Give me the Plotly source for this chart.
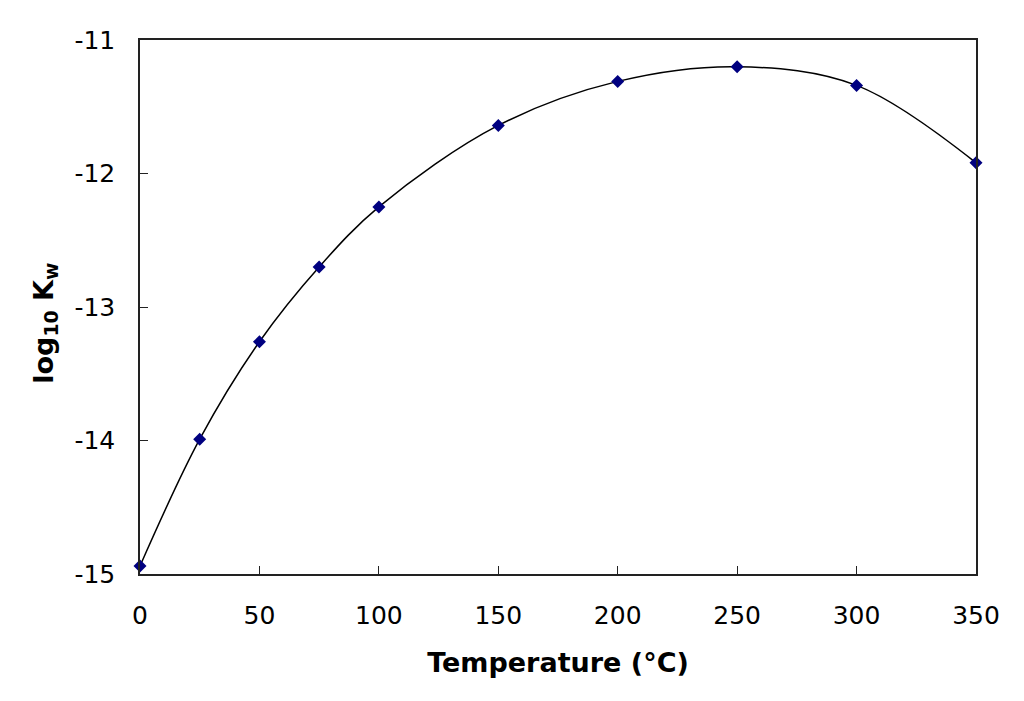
import plotly.graph_objects as go

temperature_c = [0, 25, 50, 75, 100, 150, 200, 250, 300, 350]
log10_kw = [-14.94, -13.99, -13.26, -12.70, -12.25, -11.64, -11.31, -11.20, -11.34, -11.92]

x_ticks = [0, 50, 100, 150, 200, 250, 300, 350]
y_ticks = [-15, -14, -13, -12, -11]
y_tick_labels = ["-15", "-14", "-13", "-12", "-11"]

fig = go.Figure()
fig.add_trace(go.Scatter(
    x=temperature_c, y=log10_kw, mode="lines+markers",
    line=dict(color="black", width=1.5, shape="spline", smoothing=1.0),
    marker=dict(symbol="diamond", color="#000080", size=10),
    showlegend=False, cliponaxis=False,
))

font_family = "DejaVu Sans"
fig.update_layout(
    width=1024, height=701,
    margin=dict(l=132, r=56, t=32, b=135),
    paper_bgcolor="white", plot_bgcolor="white",
    font=dict(family=font_family, color="black", size=25),
)
fig.update_xaxes(
    range=[0, 350], tickvals=x_ticks, ticks="inside", ticklen=8, tickcolor="#222",
    showline=True, linecolor="#222", linewidth=1.5, mirror=True, showgrid=False, zeroline=False,
    tickfont=dict(size=25, family=font_family), ticklabelstandoff=18,
    title=dict(text="<b>Temperature (°C)</b>", font=dict(size=27, family=font_family), standoff=24),
)
fig.update_yaxes(
    range=[-15, -11], tickvals=y_ticks, ticktext=y_tick_labels, ticks="inside", ticklen=8, tickcolor="#222",
    showline=True, linecolor="#222", linewidth=1.5, mirror=True, showgrid=False, zeroline=False,
    tickfont=dict(size=25, family=font_family), ticklabelstandoff=18,
)
fig.add_annotation(
    text="<b>log<sub>10</sub> K<sub>w</sub></b>", textangle=-90,
    xref="paper", yref="paper", x=-0.114, y=0.47, xanchor="center", yanchor="middle",
    showarrow=False, font=dict(size=27, family=font_family, color="black"),
)

fig.write_html("out.html")
